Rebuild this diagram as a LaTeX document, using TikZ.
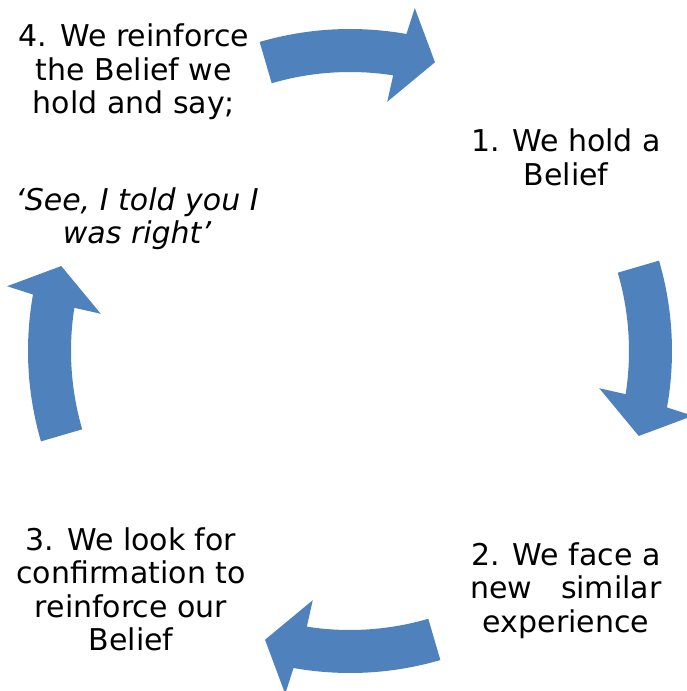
\documentclass[tikz,border=0pt]{standalone}
\usepackage{fontspec}
\setmainfont{DejaVu Sans}
\definecolor{arrowblue}{RGB}{79,129,189}
\begin{document}
\begin{tikzpicture}[x=1pt,y=1pt,
  cyclearrow/.style={fill=arrowblue, draw=none},
  steplabel/.style={align=center, anchor=base, inner sep=0pt,
    font=\fontsize{30}{33.5}\selectfont},
  quotelabel/.style={steplabel, font=\fontsize{30}{32}\selectfont\itshape}]
\useasboundingbox (-350,-340) rectangle (337,351);
% four curved block arrows around the centre, running clockwise
\foreach \k in {0,1,2,3}{
  \pgfmathsetmacro{\o}{-90*\k}
  \path[cyclearrow]
    (106.3+\o:322) arc[start angle=106.3+\o, end angle=79.9+\o, radius=322]
    -- (79.3+\o:349) -- (73.6+\o:301) -- (81.5+\o:252) -- (81.1+\o:279)
    arc[start angle=81.1+\o, end angle=106.3+\o, radius=279] -- cycle;
}
% step texts (each node sits on the baseline of its last line)
\node[steplabel] (stepone)   at (216,165.5)  {1. We hold a\\Belief};
\node[steplabel] (steptwo)   at (216,-281)   {2. We face a\\new\ \ \ similar\\experience};
\node[steplabel] (stepthree) at (-219,-299.5) {3. We look for\\confirmation to\\reinforce our\\Belief};
\node[steplabel] (stepfour)  at (-216,237)   {4. We reinforce\\the Belief we\\hold and say;};
\node[quotelabel] (saying)   at (-213,108)   {‘See, I told you I\\was right’};
\end{tikzpicture}
\end{document}
